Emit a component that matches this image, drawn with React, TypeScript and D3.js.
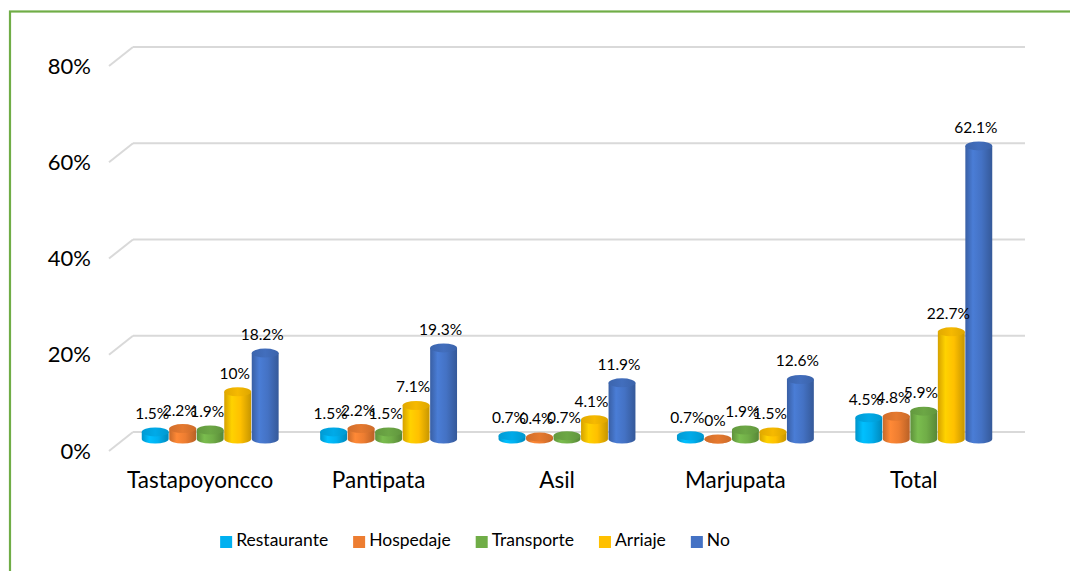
import React, { useEffect, useRef } from "react";
import * as d3 from "d3";

const categories = ["Tastapoyoncco", "Pantipata", "Asil", "Marjupata", "Total"];
const seriesNames = ["Restaurante", "Hospedaje", "Transporte", "Arriaje", "No"];
const restaurante = [1.5, 1.5, 0.7, 0.7, 4.5];
const hospedaje = [2.2, 2.2, 0.4, 0, 4.8];
const transporte = [1.9, 1.5, 0.7, 1.9, 5.9];
const arriaje = [10, 7.1, 4.1, 1.5, 22.7];
const no = [18.2, 19.3, 11.9, 12.6, 62.1];
const yTicks = [0, 20, 40, 60, 80];
const seriesColors = ["#00B0F0", "#ED7D31", "#70AD47", "#FFC000", "#4472C4"];

const W = 1070;
const H = 571;
const FONT = "Lato, 'Open Sans', sans-serif";

export default function App() {
  const ref = useRef<SVGSVGElement | null>(null);

  useEffect(() => {
    const svg = d3.select(ref.current);
    svg.selectAll("*").remove();
    const seriesValues = [restaurante, hospedaje, transporte, arriaje, no];

    // 3D geometry
    const backLeft = 133, backRight = 1025;
    const depthDx = -24, depthDy = 19;
    const yBack = d3.scaleLinear().domain([0, 80]).range([432, 47]);
    const yCyl = d3.scaleLinear().domain([0, 80]).range([439, 439 - 4.72 * 80]);
    const x0 = d3.scaleBand<string>().domain(categories)
      .range([backLeft + depthDx / 2, backRight + depthDx / 2]);
    const x1 = d3.scaleBand<string>().domain(seriesNames)
      .range([0, x0.bandwidth()]).paddingOuter(0.744).paddingInner(0);

    // border
    svg.append("rect").attr("x", 10).attr("y", 11.5).attr("width", W + 20).attr("height", H + 20)
      .attr("fill", "#fff").attr("stroke", "#70AD47").attr("stroke-width", 2.2);

    // defs gradients
    const defs = svg.append("defs");
    seriesColors.forEach((c, i) => {
      const base = d3.color(c)!;
      const g = defs.append("linearGradient").attr("id", "cg" + i)
        .attr("x1", 0).attr("x2", 1).attr("y1", 0).attr("y2", 0);
      g.append("stop").attr("offset", "0%").attr("stop-color", base.darker(0.5).formatHex());
      g.append("stop").attr("offset", "28%").attr("stop-color", base.brighter(0.25).formatHex());
      g.append("stop").attr("offset", "60%").attr("stop-color", base.formatHex());
      g.append("stop").attr("offset", "100%").attr("stop-color", base.darker(0.7).formatHex());
      const t = defs.append("linearGradient").attr("id", "tg" + i)
        .attr("x1", 0).attr("x2", 1).attr("y1", 0).attr("y2", 0);
      t.append("stop").attr("offset", "0%").attr("stop-color", base.darker(0.35).formatHex());
      t.append("stop").attr("offset", "50%").attr("stop-color", base.darker(0.1).formatHex());
      t.append("stop").attr("offset", "100%").attr("stop-color", base.darker(0.4).formatHex());
    });

    // gridlines
    const grid = svg.append("g").attr("stroke", "#D9D9D9").attr("stroke-width", 2).attr("fill", "none");
    yTicks.forEach((t) => {
      const y = yBack(t);
      grid.append("line").attr("x1", backLeft).attr("x2", backRight).attr("y1", y).attr("y2", y);
      grid.append("line").attr("x1", backLeft + depthDx).attr("y1", y + depthDy)
        .attr("x2", backLeft).attr("y2", y);
    });

    // y labels
    svg.append("g").selectAll("text").data(yTicks).join("text")
      .attr("x", 91).attr("y", (t) => yBack(t) + depthDy + 2)
      .attr("text-anchor", "end").attr("dominant-baseline", "middle")
      .attr("font-family", FONT).attr("font-size", 22).attr("fill", "#000")
      .text((t) => t + "%");

    // cylinders
    const rx = x1.bandwidth() / 2 - 0.3;
    const ry = 4.5;
    const bars = svg.append("g");
    const labels: { x: number; y: number; t: string }[] = [];
    categories.forEach((cat, ci) => {
      seriesNames.forEach((s, si) => {
        const v = seriesValues[si][ci];
        const cx = x0(cat)! + x1(s)! + x1.bandwidth() / 2;
        const top = yCyl(v);
        const base = yCyl(0);
        bars.append("path")
          .attr("d", `M${cx - rx},${top} L${cx - rx},${base} A${rx},${ry} 0 0 0 ${cx + rx},${base} L${cx + rx},${top} Z`)
          .attr("fill", `url(#cg${si})`);
        bars.append("ellipse").attr("cx", cx).attr("cy", top).attr("rx", rx).attr("ry", ry)
          .attr("fill", `url(#tg${si})`);
        labels.push({ x: cx - 3, y: top - 17, t: v + "%" });
      });
    });

    // value labels
    svg.append("g").selectAll("text").data(labels).join("text")
      .attr("x", (d) => d.x).attr("y", (d) => d.y)
      .attr("text-anchor", "middle").attr("dominant-baseline", "middle")
      .attr("font-family", FONT).attr("font-size", 15.5).attr("fill", "#000")
      .text((d) => d.t);

    // category labels
    svg.append("g").selectAll("text").data(categories).join("text")
      .attr("x", (c) => x0(c)! + x0.bandwidth() / 2 + depthDx / 2 + 2)
      .attr("y", 482).attr("text-anchor", "middle").attr("dominant-baseline", "middle")
      .attr("font-family", FONT).attr("font-size", 22.5).attr("fill", "#000")
      .text((c) => c);

    // legend
    const leg = svg.append("g");
    const sq = 12, gapText = 4, gapItem = 25;
    const items = seriesNames.map((s, i) => {
      const g = leg.append("g");
      g.append("rect").attr("x", 0).attr("y", -sq / 2).attr("width", sq).attr("height", sq)
        .attr("fill", seriesColors[i]);
      const tx = g.append("text").attr("x", sq + gapText).attr("y", 0)
        .attr("dominant-baseline", "middle").attr("font-family", FONT).attr("font-size", 17.5)
        .attr("fill", "#000").text(s);
      const w = (tx.node() as SVGTextElement).getComputedTextLength();
      return { g, w: sq + gapText + w };
    });
    const total = d3.sum(items, (d) => d.w) + gapItem * (items.length - 1);
    let x = 475 - total / 2;
    items.forEach((it) => {
      it.g.attr("transform", `translate(${x},542)`);
      x += it.w + gapItem;
    });
  }, []);

  return (
    <svg ref={ref} width={W} height={H}
      style={{ position: "absolute", left: 0, top: 0, background: "#fff" }} />
  );
}
